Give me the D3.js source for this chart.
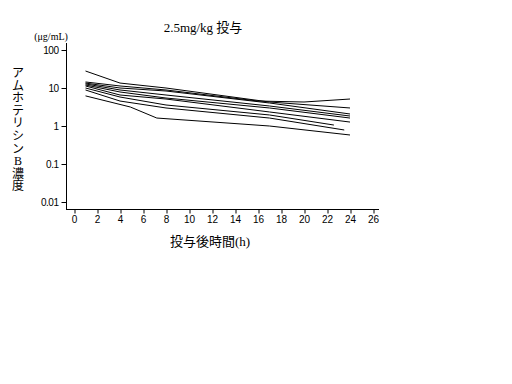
<!DOCTYPE html>
<html><head><meta charset="utf-8">
<script src="https://cdn.jsdelivr.net/npm/d3@7"></script>
<style>
body{margin:0;background:#fff;}
svg{display:block;}
</style></head>
<body><svg id="c" width="512" height="384"></svg>
<script>
// data
const xTicks = [0,2,4,6,8,10,12,14,16,18,20,22,24,26];
const yTicks = [0.01,0.1,1,10,100];
const yTickLabels = ["0.01","0.1","1","10","100"];
const timesA = [1,4,8,17,24];      const concA = [28,13.5,10,4.28,2.98];
const timesB = [1,4,8,16,20,24];   const concB = [14.4,11.3,8.86,4.54,4.28,5.13];
const timesC = [1,4,8,17,24];      const concC = [13.5,10,8.33,4.03,2.07];
const timesD = [1,4,8,17,24];      const concD = [12.8,8.86,6.54,3.36,1.83];
const timesE = [1,4,8,17,24];      const concE = [12,7.85,5.45,2.98,1.62];
const timesF = [1,4,8,17,24];      const concF = [11.3,6.54,5.13,2.34,1.27];
const timesG = [1,4,8,17,22.6];    const concG = [10,5.79,3.57,1.95,1.06];
const timesH = [1,4,8,17,23.5];    const concH = [8.86,4.54,2.98,1.62,0.785];
const timesI = [1,4.9,7.2,17,24];  const concI = [6.2,3.16,1.62,1.0,0.58];
const series = [[timesA,concA],[timesB,concB],[timesC,concC],[timesD,concD],[timesE,concE],
                [timesF,concF],[timesG,concG],[timesH,concH],[timesI,concI]];

const svg = d3.select("#c");
const x = d3.scaleLinear().domain([0,26]).range([74,373]);
const y = d3.scaleLog().domain([0.01,100]).range([202,50]);
const serif = "'Liberation Serif','Noto Sans CJK JP',serif";
const sans = "'Liberation Sans',Arial,sans-serif";

// axes lines
svg.append("line").attr("x1",66.5).attr("x2",66.5).attr("y1",43).attr("y2",209.5)
  .attr("stroke","#000").attr("stroke-width",1);
svg.append("line").attr("x1",66).attr("x2",379).attr("y1",209.5).attr("y2",209.5)
  .attr("stroke","#000").attr("stroke-width",1);

const xAxis = d3.axisBottom(x).tickValues(xTicks).tickSize(4).tickPadding(2).tickFormat(d3.format("d"));
const gx = svg.append("g").attr("transform","translate(0,209.5)").call(xAxis);
gx.select(".domain").remove();
gx.selectAll("text").attr("font-family",sans).attr("font-size",10).attr("fill","#000");
gx.selectAll("line").attr("stroke","#000").attr("transform","translate(0.5,0)");

const yAxis = d3.axisLeft(y).tickValues(yTicks).tickSize(5).tickPadding(3).tickFormat((d,i)=>yTickLabels[i]);
const gy = svg.append("g").attr("transform","translate(66.5,0)").call(yAxis);
gy.select(".domain").remove();
gy.selectAll("text").attr("font-family",sans).attr("font-size",10).attr("fill","#000").attr("letter-spacing","-0.5");
gy.selectAll("line").attr("stroke","#000");

// data lines
const line = d3.line().x(d=>x(d[0])).y(d=>y(d[1]));
series.forEach(([t,c])=>{
  svg.append("path").datum(t.map((tt,i)=>[tt,c[i]])).attr("d",line)
    .attr("fill","none").attr("stroke","#000").attr("stroke-width",1);
});

// texts
svg.append("text").attr("x",203).attr("y",32).attr("text-anchor","middle")
  .attr("font-family",serif).attr("font-size",13).text("2.5mg/kg 投与");
svg.append("text").attr("x",51).attr("y",40).attr("text-anchor","middle")
  .attr("font-family",serif).attr("font-size",10).text("(μg/mL)");
svg.append("text").attr("x",210).attr("y",246).attr("text-anchor","middle")
  .attr("font-family",serif).attr("font-size",13).text("投与後時間(h)");
const ylab = "アムホテリシンB濃度".split("");
svg.append("g").selectAll("text").data(ylab).join("text")
  .attr("x",18).attr("y",(d,i)=>77+i*12.6).attr("text-anchor","middle")
  .attr("font-family",serif).attr("font-size",12).text(d=>d);
</script></body></html>
